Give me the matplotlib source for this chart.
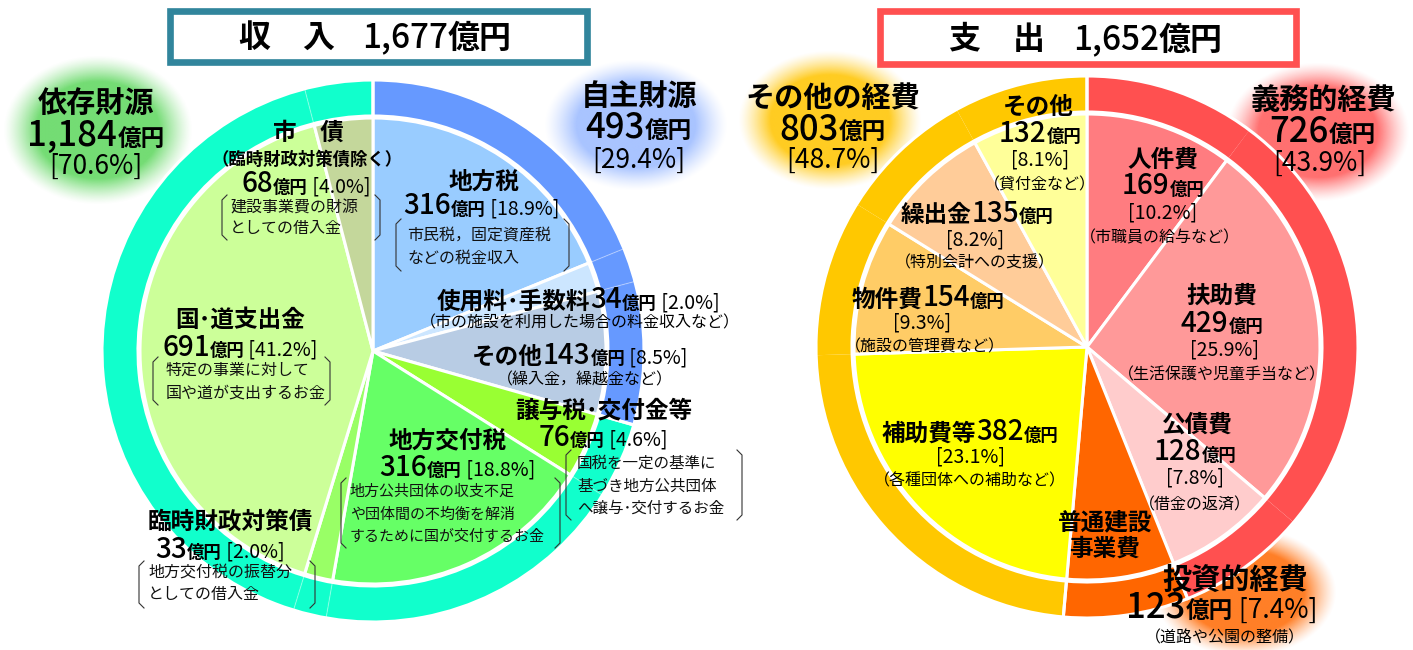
import numpy as np
import matplotlib
matplotlib.use('Agg')
import matplotlib.pyplot as plt
from matplotlib.patches import Rectangle
from matplotlib.colors import to_rgb
from matplotlib.offsetbox import TextArea, HPacker, AnnotationBbox

plt.rcParams['font.family'] = ['Noto Sans CJK JP', 'DejaVu Sans']

W, H = 1413, 650

# ---- 収入 (億円) ----
in_names = ['地方税', '使用料･手数料', 'その他', '譲与税･交付金等', '地方交付税',
            '臨時財政対策債', '国･道支出金', '市債']
in_vals = [316, 34, 143, 76, 316, 33, 691, 68]
in_pcts = [18.9, 2.0, 8.5, 4.6, 18.8, 2.0, 41.2, 4.0]
in_cols = ['#99CCFF', '#CCE6FF', '#B8CCE4', '#99FF33', '#66FF66', '#99FF66', '#CCFF99', '#C4D79B']
in_grp_of = [0, 0, 0, 1, 1, 1, 1, 1]
in_grp_names = ['自主財源', '依存財源']
in_grp_vals = [493, 1184]
in_grp_pcts = [29.4, 70.6]
in_grp_cols = ['#6699FF', '#11FFCC']
in_total = 1677

# ---- 支出 (億円) ----
out_names = ['人件費', '扶助費', '公債費', '普通建設事業費', '補助費等', '物件費', '繰出金', 'その他']
out_vals = [169, 429, 128, 123, 382, 154, 135, 132]
out_pcts = [10.2, 25.9, 7.8, 7.4, 23.1, 9.3, 8.2, 8.1]
out_cols = ['#FF7C80', '#FF9999', '#FFCCCC', '#FF6600', '#FFFF00', '#FFCC66', '#FFCC99', '#FFFF99']
out_grp_of = [0, 0, 0, 1, 2, 2, 2, 2]
out_grp_names = ['義務的経費', '投資的経費', 'その他の経費']
out_grp_vals = [726, 123, 803]
out_grp_pcts = [43.9, 7.4, 48.7]
out_grp_cols = ['#FF5050', '#FF6600', '#FFC800']
out_total = 1652

R_OUT, R_W, R_IN = 271, 36, 233
NUMW = 'medium'

fig = plt.figure(figsize=(W / 100, H / 100), dpi=100)
ax = fig.add_axes([0, 0, 1, 1])


def donut(cx, cy, vals, cols, grp_vals, grp_cols, grp_of, faint):
    c = (cx, H - cy)
    ring_cols = [grp_cols[g] for g in grp_of]
    ax.pie(vals, colors=cols, radius=R_IN, center=c, startangle=90, counterclock=False,
           wedgeprops=dict(edgecolor='white', linewidth=2.2))
    ax.pie(vals, colors=ring_cols, radius=R_OUT, center=c, startangle=90, counterclock=False,
           wedgeprops=dict(width=R_W, edgecolor=(1, 1, 1, faint), linewidth=0.8))
    ax.pie(grp_vals, colors=['none'] * len(grp_vals), radius=R_OUT, center=c, startangle=90,
           counterclock=False, wedgeprops=dict(width=R_W, edgecolor='white', linewidth=2.2, fill=False))


def glow(cx, cy, w, h, color):
    xs = np.linspace(-1, 1, 240)
    ys = np.linspace(-1, 1, 200)
    X, Y = np.meshgrid(xs, ys)
    d = np.sqrt(X ** 2 + Y ** 2)
    a = np.clip((1 - d) / 0.35, 0, 1) ** 1.3
    img = np.zeros((len(ys), len(xs), 4))
    img[..., :3] = to_rgb(color)
    img[..., 3] = a
    ax.imshow(img, extent=(cx - w / 2, cx + w / 2, H - cy - h / 2, H - cy + h / 2),
              origin='lower', aspect='auto', interpolation='bilinear', zorder=0.5)


def line(x, y, parts):
    kids = [TextArea(s, textprops=dict(fontsize=fs, fontweight=fw, color='black'))
            for s, fs, fw in parts]
    box = HPacker(children=kids, align='baseline', pad=0, sep=0)
    ab = AnnotationBbox(box, (x, H - y), frameon=False, box_alignment=(0.5, 0.5), pad=0, zorder=5)
    ax.add_artist(ab)


def note(x, ys, lines, fs=11.5):
    for yy, s in zip(ys, lines):
        ax.text(x, H - yy, s, fontsize=fs, ha='left', va='center', color='#111', zorder=5)


def bracket(x0, x1, y0, y1):
    k = 5
    ax.plot([x0 + k, x0, x0, x0 + k], [H - y0, H - y0 - k, H - y1 + k, H - y1], color='#333', lw=0.8, zorder=5)
    ax.plot([x1 - k, x1, x1, x1 - k], [H - y0, H - y0 - k, H - y1 + k, H - y1], color='#333', lw=0.8, zorder=5)


B = lambda s, fs=17: (s, fs, 'bold')
N = lambda s, fs=20: (s, fs, NUMW)
YEN = lambda fs=12.5: ('億円', fs, 'bold')
P = lambda p, fs=14: (f' [{p:.1f}%]', fs, 'normal')
P0 = lambda p, fs=14: (f'[{p:.1f}%]', fs, 'normal')
S = lambda s, fs=11.5: (s, fs, 'normal')

# glows (behind pies)
glow(98, 130, 190, 150, '#74DC74')
glow(636, 125, 184, 132, '#A9C4FF')
glow(830, 120, 184, 140, '#FFCC22')
glow(1318, 132, 184, 140, '#FF7070')
glow(1245, 592, 184, 130, '#FF7F27')

donut(373, 351, in_vals, in_cols, in_grp_vals, in_grp_cols, in_grp_of, 0.25)
donut(1087, 347, out_vals, out_cols, out_grp_vals, out_grp_cols, out_grp_of, 0.0)

# title boxes
ax.add_patch(Rectangle((170, H - 62), 417, 51, facecolor='white', edgecolor='#31859C', lw=4.8, zorder=4))
ax.add_patch(Rectangle((880, H - 64), 416, 53, facecolor='white', edgecolor='#FF5050', lw=4.8, zorder=4))
line(287, 38, [B('収\u3000入', 23)])
line(437, 38, [N(f'{in_total:,}', 24), B('億円', 23)])
line(997, 40, [B('支\u3000出', 23)])
line(1148, 40, [N(f'{out_total:,}', 24), B('億円', 23)])

# ---- 収入 labels ----
line(96, 103, [B(in_grp_names[1], 21)])
line(96, 136, [N(f'{in_grp_vals[1]:,}', 25), YEN(17)])
line(96, 166, [P0(in_grp_pcts[1], 19)])
line(639, 96, [B(in_grp_names[0], 21)])
line(639, 128, [N(f'{in_grp_vals[0]}', 25), YEN(17)])
line(639, 160, [P0(in_grp_pcts[0], 19)])

line(308, 133, [B('市\u3000債')])
line(307, 160, [B('（臨時財政対策債除く）', 12.5)])
line(306, 184, [N(f'{in_vals[7]}'), YEN(), P(in_pcts[7])])
note(230, [208, 229], ['建設事業費の財源', 'としての借入金'])
bracket(222, 380, 195, 240)

line(484, 182, [B(in_names[0])])
line(481, 206, [N(f'{in_vals[0]}'), YEN(), P(in_pcts[0])])
note(407, [235, 258], ['市民税，固定資産税', 'などの税金収入'])
bracket(396, 569, 219, 271)

line(578, 300, [B(in_names[1]), N(f'{in_vals[1]}'), YEN(), P(in_pcts[1])])
line(580, 323, [S('（市の施設を利用した場合の料金収入など）')])
line(580, 355, [B(in_names[2]), N(f'{in_vals[2]}'), YEN(), P(in_pcts[2])])
line(585, 380, [S('（繰入金，繰越金など）')])

line(604, 410, [B(in_names[3])])
line(603, 437, [N(f'{in_vals[3]}'), YEN(), P(in_pcts[3])])
note(577, [463, 486, 508], ['国税を一定の基準に', '基づき地方公共団体', 'へ譲与･交付するお金'], 11.2)
bracket(566, 742, 450, 520)

line(448, 440, [B(in_names[4])])
line(457, 467, [N(f'{in_vals[4]}'), YEN(), P(in_pcts[4])])
note(350, [492, 515, 537], ['地方公共団体の収支不足', 'や団体間の不均衡を解消', 'するために国が交付するお金'], 10.8)
bracket(341, 560, 478, 548)

line(240, 320, [B(in_names[6])])
line(240, 347, [N(f'{in_vals[6]}'), YEN(), P(in_pcts[6])])
note(166, [370, 393], ['特定の事業に対して', '国や道が支出するお金'])
bracket(153, 330, 357, 405)

line(230, 522, [B(in_names[5])])
line(220, 549, [N(f'{in_vals[5]}'), YEN(), P(in_pcts[5])])
note(148, [573, 595], ['地方交付税の振替分', 'としての借入金'])
bracket(139, 315, 561, 608)

# ---- 支出 labels ----
line(833, 98, [B(out_grp_names[2], 21)])
line(833, 129, [N(f'{out_grp_vals[2]}', 25), YEN(17)])
line(833, 160, [P0(out_grp_pcts[2], 19)])
line(1323, 100, [B(out_grp_names[0], 21)])
line(1323, 132, [N(f'{out_grp_vals[0]}', 25), YEN(17)])
line(1320, 163, [P0(out_grp_pcts[0], 19)])
line(1235, 580, [B(out_grp_names[1], 21)])
line(1222, 608, [N(f'{out_grp_vals[1]}', 25), YEN(17), P(out_grp_pcts[1], 19)])
line(1225, 638, [S('（道路や公園の整備）')])

line(1038, 107, [B(out_names[7])])
line(1040, 133, [N(f'{out_vals[7]}'), YEN()])
line(1040, 160, [P0(out_pcts[7])])
line(1040, 185, [S('（貸付金など）')])

line(977, 213, [B(out_names[6]), N(f'{out_vals[6]}'), YEN()])
line(975, 240, [P0(out_pcts[6])])
line(975, 263, [S('（特別会計への支援）')])

line(928, 298, [B(out_names[5]), N(f'{out_vals[5]}'), YEN()])
line(922, 323, [P0(out_pcts[5])])
line(925, 347, [S('（施設の管理費など）')])

line(970, 432, [B(out_names[4]), N(f'{out_vals[4]}'), YEN()])
line(970, 457, [P0(out_pcts[4])])
line(970, 481, [S('（各種団体への補助など）')])

line(1105, 522, [B('普通建設')])
line(1105, 549, [B('事業費')])

line(1163, 160, [B(out_names[0])])
line(1163, 186, [N(f'{out_vals[0]}'), YEN()])
line(1163, 213, [P0(out_pcts[0])])
line(1160, 238, [S('（市職員の給与など）')])

line(1222, 296, [B(out_names[1])])
line(1222, 323, [N(f'{out_vals[1]}'), YEN()])
line(1225, 350, [P0(out_pcts[1])])
line(1222, 375, [S('（生活保護や児童手当など）')])

line(1197, 425, [B(out_names[2])])
line(1195, 452, [N(f'{out_vals[2]}'), YEN()])
line(1195, 478, [P0(out_pcts[2])])
line(1195, 505, [S('（借金の返済）')])

ax.set_xlim(0, W)
ax.set_ylim(0, H)
ax.set_aspect('auto')
ax.axis('off')
fig.savefig('out.png', dpi=100, facecolor='white')
